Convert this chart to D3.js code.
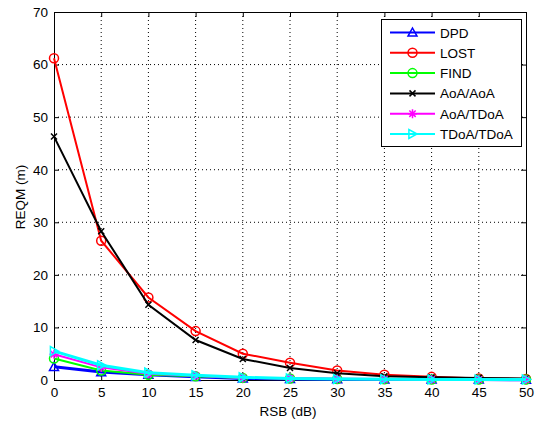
<!DOCTYPE html>
<html><head><meta charset="utf-8">
<script src="https://cdn.jsdelivr.net/npm/d3@7"></script>
<style>body{margin:0;background:#fff}svg{display:block;font-family:"Liberation Sans",Arial,sans-serif}</style>
</head><body>
<script>
const xValues = [0,5,10,15,20,25,30,35,40,45,50];
const xTicks = [0,5,10,15,20,25,30,35,40,45,50];
const yTicks = [0,10,20,30,40,50,60,70];
const dpd      = [2.5,1.5,1.0,0.6,0.3,0.2,0.15,0.1,0.1,0.1,0.05];
const lost     = [61.2,26.5,15.7,9.3,5.0,3.3,1.8,1.0,0.6,0.3,0.2];
const find     = [4.1,1.8,1.0,0.7,0.4,0.3,0.2,0.15,0.1,0.1,0.1];
const aoaAoa   = [46.3,28.3,14.3,7.6,4.0,2.3,1.3,0.7,0.5,0.4,0.3];
const aoaTdoa  = [4.9,2.4,1.2,0.8,0.4,0.3,0.2,0.15,0.1,0.1,0.1];
const tdoaTdoa = [5.5,2.8,1.4,0.9,0.5,0.3,0.2,0.15,0.1,0.1,0.1];
const names = ["DPD","LOST","FIND","AoA/AoA","AoA/TDoA","TDoA/TDoA"];
const colors = ["#0000ff","#ff0000","#00ff00","#000000","#ff00ff","#00ffff"];
const markers = ["triUp","circle","circle","x","star","triRight"];
const seriesData = [dpd,lost,find,aoaAoa,aoaTdoa,tdoaTdoa];

const W=537,H=424,FS=13.5;
const svg=d3.select("body").append("svg").attr("width",W).attr("height",H);
const L=54,R=526,T=12,B=380;
const x=d3.scaleLinear().domain([0,50]).range([L,R]);
const y=d3.scaleLinear().domain([0,70]).range([B,T]);

// grid
const g=svg.append("g");
xTicks.forEach(t=>{ if(t>0&&t<50) g.append("line").attr("x1",x(t)).attr("x2",x(t)).attr("y1",T).attr("y2",B).attr("stroke","#000").attr("stroke-width",1).attr("stroke-dasharray","1,3");});
yTicks.forEach(t=>{ if(t>0&&t<70) g.append("line").attr("x1",L).attr("x2",R).attr("y1",y(t)).attr("y2",y(t)).attr("stroke","#000").attr("stroke-width",1).attr("stroke-dasharray","1,3");});

// axes
const xa=d3.axisBottom(x).tickValues(xTicks).tickSizeInner(-5).tickSizeOuter(0).tickPadding(7);
const ya=d3.axisLeft(y).tickValues(yTicks).tickSizeInner(-5).tickSizeOuter(0).tickPadding(6);
const xg=svg.append("g").attr("transform",`translate(0,${B})`).call(xa);
const yg=svg.append("g").attr("transform",`translate(${L},0)`).call(ya);
const xt=svg.append("g").attr("transform",`translate(0,${T})`).call(d3.axisTop(x).tickValues(xTicks).tickSizeInner(-5).tickSizeOuter(0).tickFormat(""));
const yr=svg.append("g").attr("transform",`translate(${R},0)`).call(d3.axisRight(y).tickValues(yTicks).tickSizeInner(-5).tickSizeOuter(0).tickFormat(""));
[xg,yg,xt,yr].forEach(a=>{a.select(".domain").remove();a.selectAll("line").attr("stroke","#000");a.selectAll("text").attr("font-size",FS).attr("fill","#000").attr("font-family","Liberation Sans, Arial, sans-serif");});
svg.append("rect").attr("x",L+0.5).attr("y",T+0.5).attr("width",R-L).attr("height",B-T).attr("fill","none").attr("stroke","#000").attr("stroke-width",1);

svg.append("text").attr("x",288).attr("y",415.5).attr("text-anchor","middle").attr("font-size",FS).text("RSB (dB)");
svg.append("text").attr("transform","translate(25,197) rotate(-90)").attr("text-anchor","middle").attr("font-size",FS).text("REQM (m)");

function marker(sel,type,cx,cy,color){
  const s=4.5;
  if(type==="circle") sel.append("circle").attr("cx",cx).attr("cy",cy).attr("r",s).attr("fill","none").attr("stroke",color).attr("stroke-width",1.5);
  else if(type==="triUp") sel.append("path").attr("d",`M${cx},${cy-s}L${cx+s},${cy+s*0.8}L${cx-s},${cy+s*0.8}Z`).attr("fill","none").attr("stroke",color).attr("stroke-width",1.5);
  else if(type==="triRight") sel.append("path").attr("d",`M${cx+s},${cy}L${cx-s*0.8},${cy-s}L${cx-s*0.8},${cy+s}Z`).attr("fill","none").attr("stroke",color).attr("stroke-width",1.5);
  else if(type==="x"){const k=3;sel.append("path").attr("d",`M${cx-k},${cy-k}L${cx+k},${cy+k}M${cx-k},${cy+k}L${cx+k},${cy-k}`).attr("stroke",color).attr("stroke-width",1.5);}
  else if(type==="star"){const k=4.5;let d="";for(let i=0;i<4;i++){const a=i*Math.PI/4;d+=`M${cx-k*Math.cos(a)},${cy-k*Math.sin(a)}L${cx+k*Math.cos(a)},${cy+k*Math.sin(a)}`;}sel.append("path").attr("d",d).attr("stroke",color).attr("stroke-width",1.5);}
}

const line=d3.line().x((d,i)=>x(xValues[i])).y(d=>y(d));
const widths=[3,2,2,2,2,3];
seriesData.forEach((vals,si)=>{
  const gg=svg.append("g");
  gg.append("path").datum(vals).attr("d",line).attr("fill","none").attr("stroke",colors[si]).attr("stroke-width",widths[si]);
  vals.forEach((v,i)=>marker(gg,markers[si],x(xValues[i]),y(v),colors[si]));
});

// legend
const lg=svg.append("g");
lg.append("rect").attr("x",381.5).attr("y",19.5).attr("width",140).attr("height",127).attr("fill","#fff").attr("stroke","#000").attr("stroke-width",1);
names.forEach((n,i)=>{
  const yy=32.5+i*20.3;
  lg.append("line").attr("x1",390).attr("x2",435).attr("y1",yy).attr("y2",yy).attr("stroke",colors[i]).attr("stroke-width",2);
  marker(lg,markers[i],412.5,yy,colors[i]);
  lg.append("text").attr("x",440).attr("y",yy+5).attr("font-size",FS).text(n);
});
</script>
</body></html>
